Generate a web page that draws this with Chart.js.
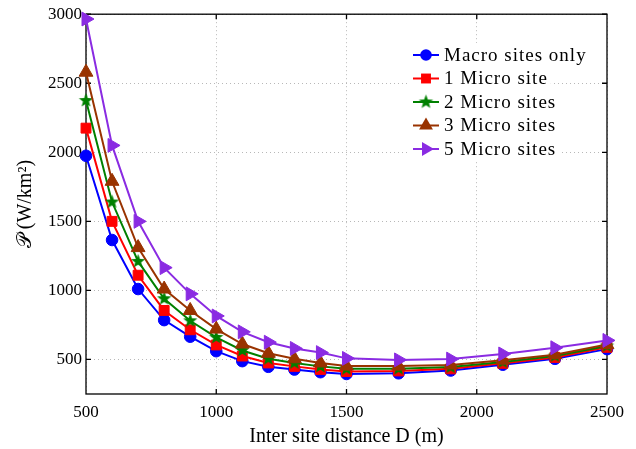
<html>
<head>
    <title>Power per area</title>
    <style>
        body { margin: 0; background: #fff; }
    </style>
</head>
<body>
<canvas id="powerChart" width="636" height="449"></canvas>

<script src="https://cdn.jsdelivr.net/npm/chart.js"></script>

<script>
    // inter site distance D (m)
    const distances = [500, 600, 700, 800, 900, 1000, 1100, 1200, 1300, 1400, 1500, 1700, 1900, 2100, 2300, 2500]
    // area power consumption (W/km^2)
    const macroOnly = [1975, 1365, 1010, 785, 665, 560, 488, 447, 427, 408, 395, 400, 420, 462, 505, 575]
    const micro1 = [2175, 1500, 1110, 855, 715, 605, 525, 475, 450, 428, 413, 417, 432, 472, 515, 588]
    const micro2 = [2375, 1640, 1210, 940, 780, 660, 565, 505, 475, 450, 432, 433, 445, 482, 525, 598]
    const micro3 = [2580, 1790, 1310, 1010, 855, 720, 612, 545, 505, 475, 452, 452, 460, 495, 535, 608]
    const micro5 = [2965, 2050, 1500, 1165, 975, 815, 700, 625, 580, 550, 508, 497, 503, 540, 585, 638]
    const yTicks = [500, 1000, 1500, 2000, 2500, 3000]

    const serif = '"Liberation Serif", "DejaVu Serif", serif'

    // filled five point star used as marker
    function makeStar(color, r) {
        const c = document.createElement('canvas')
        const s = Math.ceil(r * 2 + 2)
        c.width = s; c.height = s
        const g = c.getContext('2d')
        g.fillStyle = color
        g.beginPath()
        for (let i = 0; i < 10; i++) {
            const rr = i % 2 === 0 ? r : r * 0.42
            const a = -Math.PI / 2 + i * Math.PI / 5
            const px = s / 2 + rr * Math.cos(a), py = s / 2 + rr * Math.sin(a)
            if (i === 0) g.moveTo(px, py); else g.lineTo(px, py)
        }
        g.closePath()
        g.fill()
        return c
    }
    const starImg = makeStar('#008000', 7.5)

    function series(label, values, color, style, radius, rotation, order) {
        return {
            label: label,
            data: values.map((v, i) => ({x: distances[i], y: v})),
            borderColor: color,
            backgroundColor: color,
            pointBackgroundColor: color,
            pointBorderColor: color,
            borderWidth: 2,
            pointStyle: style,
            pointRadius: radius,
            pointBorderWidth: 1,
            pointRotation: rotation,
            tension: 0,
            clip: false,
            order: order
        }
    }

    const datasets = [
        series('Macro sites only', macroOnly, '#0000ff', 'circle', 5.8, 0, 4),
        series('1 Micro site', micro1, '#ff0000', 'rect', 7, 0, 3),
        series('2 Micro sites', micro2, '#008000', starImg, 7, 0, 2),
        series('3 Micro sites', micro3, '#993300', 'triangle', 8, 0, 1),
        series('5 Micro sites', micro5, '#8a2be2', 'triangle', 8, 90, 0)
    ]

    function drawMarker(ctx, ds, x, y) {
        ctx.save()
        ctx.fillStyle = ds.borderColor
        ctx.translate(x, y)
        const r = ds.pointRadius
        if (ds.pointStyle === 'circle') {
            ctx.beginPath(); ctx.arc(0, 0, r, 0, Math.PI * 2); ctx.fill()
        } else if (ds.pointStyle === 'rect') {
            const h = r * Math.SQRT1_2
            ctx.fillRect(-h, -h, 2 * h, 2 * h)
        } else if (ds.pointStyle === 'triangle') {
            ctx.rotate(ds.pointRotation * Math.PI / 180)
            ctx.beginPath()
            for (let k = 0; k < 3; k++) {
                const a = k * 2 * Math.PI / 3
                ctx.lineTo(Math.sin(a) * r, -Math.cos(a) * r)
            }
            ctx.closePath(); ctx.fill()
        } else {
            ctx.drawImage(ds.pointStyle, -ds.pointStyle.width / 2, -ds.pointStyle.height / 2)
        }
        ctx.restore()
    }

    // axes box with inward ticks on all four sides
    const framePlugin = {
        id: 'frame',
        beforeDatasetsDraw(chart) {
            const {ctx, chartArea: a, scales} = chart
            ctx.save()
            ctx.strokeStyle = '#000'
            ctx.lineWidth = 1.3
            ctx.strokeRect(a.left, a.top, a.right - a.left, a.bottom - a.top)
            ctx.beginPath()
            for (const v of [1000, 1500, 2000]) {
                const px = scales.x.getPixelForValue(v)
                ctx.moveTo(px, a.bottom); ctx.lineTo(px, a.bottom - 5)
                ctx.moveTo(px, a.top); ctx.lineTo(px, a.top + 5)
            }
            for (const v of yTicks) {
                const py = scales.y.getPixelForValue(v)
                ctx.moveTo(a.left, py); ctx.lineTo(a.left + 5, py)
                ctx.moveTo(a.right, py); ctx.lineTo(a.right - 5, py)
            }
            ctx.stroke()
            ctx.restore()
        }
    }

    // legend: line + marker + label, inside the plot at top right
    const legendPlugin = {
        id: 'lineLegend',
        afterDatasetsDraw(chart) {
            const ctx = chart.ctx
            ctx.save()
            ctx.font = '19px ' + serif
            ctx.letterSpacing = '1px'
            ctx.textBaseline = 'middle'
            const x0 = 413, x1 = 439, tx = 444
            let y = 55
            chart.data.datasets.forEach(ds => {
                const w = ctx.measureText(ds.label).width
                ctx.fillStyle = '#fff'
                ctx.fillRect(x0 - 3, y - 12, tx + w + 3 - (x0 - 3), 24)
                ctx.strokeStyle = ds.borderColor
                ctx.lineWidth = 2
                ctx.beginPath(); ctx.moveTo(x0, y); ctx.lineTo(x1, y); ctx.stroke()
                drawMarker(ctx, ds, (x0 + x1) / 2, y)
                ctx.fillStyle = '#000'
                ctx.fillText(ds.label, tx, y + 1)
                y += 23.5
            })
            ctx.restore()
        }
    }

    const gridStyle = {color: '#b8b8b8', lineWidth: 1, drawTicks: false}

    new Chart(document.getElementById('powerChart'), {
        type: 'line',
        data: {datasets: datasets},
        plugins: [framePlugin, legendPlugin],
        options: {
            responsive: false,
            animation: false,
            layout: {padding: {top: 11, right: 29, left: 0, bottom: 0}},
            plugins: {legend: {display: false}, tooltip: {enabled: false}},
            scales: {
                x: {
                    type: 'linear',
                    min: 500,
                    max: 2500,
                    grid: gridStyle,
                    border: {display: false, dash: [1, 3]},
                    ticks: {stepSize: 500, padding: 8, color: '#000', maxRotation: 0,
                        font: {family: serif, size: 17}, callback: v => String(v)},
                    title: {display: true, text: 'Inter site distance D (m)', color: '#000',
                        font: {family: serif, size: 20}, padding: {top: 0, bottom: 0}},
                    afterFit(scale) { scale.height = 55 }
                },
                y: {
                    type: 'linear',
                    min: 250,
                    max: 3000,
                    grid: gridStyle,
                    border: {display: false, dash: [1, 3]},
                    afterBuildTicks(scale) { scale.ticks = yTicks.map(v => ({value: v})) },
                    ticks: {padding: 4, color: '#000', font: {family: serif, size: 17},
                        callback: v => String(v)},
                    title: {display: true, text: '𝒫 (W/km²)', color: '#000',
                        font: {family: serif, size: 20}, padding: {top: 14, bottom: 0}},
                    afterFit(scale) { scale.width = 86 }
                }
            }
        }
    });
</script>
</body>
</html>
